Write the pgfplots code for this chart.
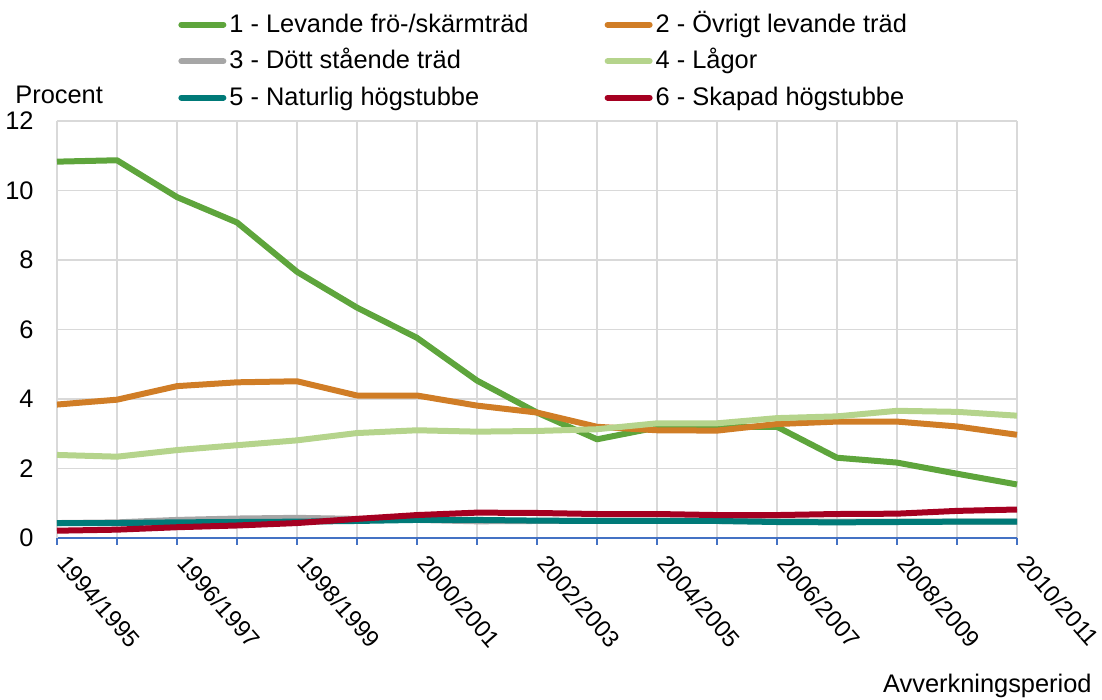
\documentclass[border=0pt]{standalone}
\usepackage{pgfplots}
\pgfplotsset{compat=1.18}
\usepackage{fontspec}
\setmainfont{Liberation Sans}
\definecolor{c1}{RGB}{94,165,60}
\definecolor{c2}{RGB}{208,125,38}
\definecolor{c3}{RGB}{166,166,166}
\definecolor{c4}{RGB}{181,212,140}
\definecolor{c5}{RGB}{0,122,120}
\definecolor{c6}{RGB}{165,0,33}
\definecolor{gridc}{RGB}{217,217,217}
\definecolor{axisblue}{RGB}{68,114,196}
\begin{document}
\fontsize{12.7}{15}\selectfont
\begin{tikzpicture}
\useasboundingbox (-28.5pt,-81pt) rectangle (522.5pt,269pt);
\begin{axis}[
 at={(0pt,0pt)}, anchor=south west,
 scale only axis, width=480pt, height=208.5pt,
 xmin=0, xmax=16, ymin=0, ymax=12,
 xtick={0,2,...,16},
 minor xtick={1,3,...,15},
 xticklabels={1994/1995,1996/1997,1998/1999,2000/2001,2002/2003,2004/2005,2006/2007,2008/2009,2010/2011},
 ytick={0,2,...,12},
 grid=both, grid style={draw=gridc, line width=0.75pt},
 minor grid style={draw=gridc, line width=0.75pt},
 axis x line=bottom, axis y line=left,
 x axis line style={draw=axisblue, line width=0.75pt, -},
 y axis line style={draw=gridc, line width=0.75pt, -},
 tick align=outside,
 x tick style={draw=axisblue, line width=0.75pt},
 major tick length=3.5pt, minor tick length=3.5pt,
 y tick style={draw=none},
 tick label style={font=\fontsize{12.7}{15}\selectfont},
 xticklabel style={inner sep=0pt, xshift=6pt, yshift=-4pt, rotate=-49, anchor=north west, font=\fontsize{11.8}{14}\selectfont},
 yticklabel style={inner sep=0pt, anchor=east, xshift=-8pt},
 /pgf/number format/assume math mode=true,
 legend columns=2,
 legend cell align=left,
 legend style={draw=none, fill=none, at={(0.126,1.259)}, anchor=north west, inner sep=0pt, row sep=5.75pt,
   nodes={inner sep=0pt, text height=9.5pt, text depth=3pt, font=\fontsize{12.7}{15}\selectfont},
   /tikz/every even column/.append style={column sep=38pt},
   /tikz/every odd column/.append style={column sep=1.5pt}},
 legend image code/.code={\draw[#1, line width=3pt, line cap=round] (0pt,0.6pt) -- (21pt,0.6pt);},
 every axis plot/.append style={line width=3pt, line join=round, mark=none},
 clip=false,
]
\addplot[c1] coordinates {(0,10.83)(1,10.87)(2,9.81)(3,9.08)(4,7.66)(5,6.63)(6,5.76)(7,4.53)(8,3.61)(9,2.84)(10,3.18)(11,3.20)(12,3.20)(13,2.31)(14,2.17)(15,1.85)(16,1.54)};
\addlegendentry{1 - Levande frö-/skärmträd}
\addplot[c2] coordinates {(0,3.84)(1,3.98)(2,4.37)(3,4.48)(4,4.51)(5,4.10)(6,4.10)(7,3.81)(8,3.61)(9,3.20)(10,3.10)(11,3.09)(12,3.28)(13,3.35)(14,3.35)(15,3.21)(16,2.97)};
\addlegendentry{2 - Övrigt levande träd}
\addplot[c3] coordinates {(0,0.43)(1,0.45)(2,0.52)(3,0.56)(4,0.58)(5,0.55)(6,0.52)(7,0.48)(8,0.49)(9,0.49)(10,0.49)(11,0.49)(12,0.48)(13,0.47)(14,0.47)(15,0.47)(16,0.47)};
\addlegendentry{3 - Dött stående träd}
\addplot[c4] coordinates {(0,2.39)(1,2.34)(2,2.53)(3,2.67)(4,2.81)(5,3.02)(6,3.10)(7,3.06)(8,3.08)(9,3.13)(10,3.30)(11,3.30)(12,3.45)(13,3.50)(14,3.66)(15,3.63)(16,3.52)};
\addlegendentry{4 - Lågor}
\addplot[c5] coordinates {(0,0.43)(1,0.43)(2,0.45)(3,0.46)(4,0.47)(5,0.49)(6,0.52)(7,0.52)(8,0.50)(9,0.49)(10,0.49)(11,0.49)(12,0.46)(13,0.45)(14,0.46)(15,0.47)(16,0.47)};
\addlegendentry{5 - Naturlig högstubbe}
\addplot[c6] coordinates {(0,0.21)(1,0.24)(2,0.31)(3,0.36)(4,0.43)(5,0.55)(6,0.66)(7,0.73)(8,0.72)(9,0.69)(10,0.69)(11,0.66)(12,0.66)(13,0.69)(14,0.70)(15,0.78)(16,0.82)};
\addlegendentry{6 - Skapad högstubbe}
\end{axis}
\node[anchor=base west, inner sep=0pt] at (-21pt,217pt) {Procent};
\node[anchor=base east, inner sep=0pt] at (517.5pt,-77.5pt) {Avverkningsperiod};
\end{tikzpicture}
\end{document}
